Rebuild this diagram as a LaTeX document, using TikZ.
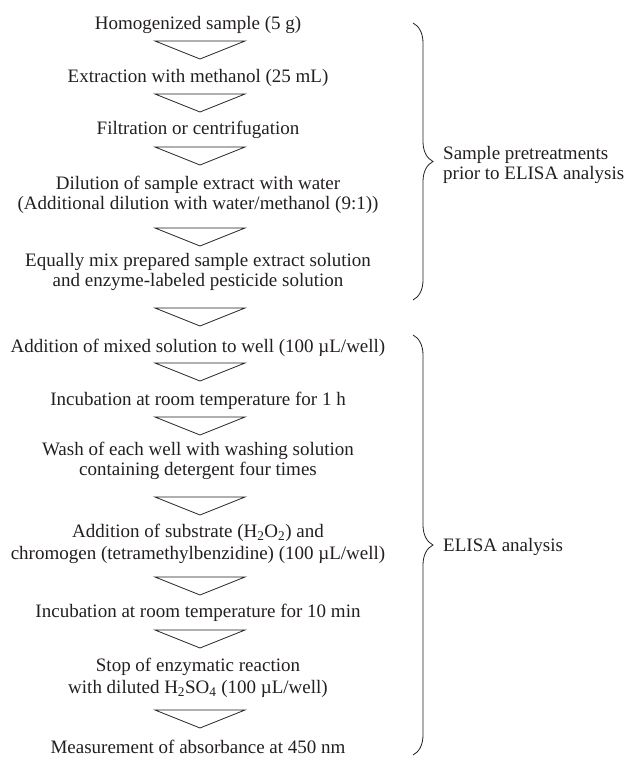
\documentclass[tikz,border=0pt]{standalone}
\usepackage{fontspec}
\setmainfont{Liberation Serif}
\usepackage{tikz}
\usetikzlibrary{decorations.pathreplacing}

\definecolor{inkgray}{RGB}{35,31,32}

\tikzset{
  stepnode/.style={align=center,inner sep=0pt,text=inkgray,
    font=\fontsize{19}{20}\selectfont},
  sidenode/.style={align=left,anchor=west,inner sep=0pt,text=inkgray,
    font=\fontsize{19}{20}\selectfont},
  flowtri/.style={draw=inkgray,line width=0.8pt,line join=miter},
  sidebrace/.style={draw=inkgray,line width=0.8pt,decorate,
    decoration={brace,amplitude=20pt}}
}

\begin{document}
\begin{tikzpicture}[x=1pt,y=-1pt]
\useasboundingbox (0,0) rectangle (624,760);

% the points of the down triangles
\pgfmathsetmacro{\Xleft}{155};
\pgfmathsetmacro{\Xmid}{200};
\pgfmathsetmacro{\Xright}{245};
\pgfmathsetmacro{\Theight}{18};
\pgfmathsetmacro{\Xtext}{198};

% the steps
\node[stepnode] (homog) at (\Xtext,25) {Homogenized sample (5 g)};
\node[stepnode] (extract) at (\Xtext,78) {Extraction with methanol (25 mL)};
\node[stepnode] (filter) at (\Xtext,130) {Filtration or centrifugation};
\node[stepnode] (dilute) at (\Xtext,195) {Dilution of sample extract with water\\
  (Additional dilution with water/methanol (9:1))};
\node[stepnode] (mix) at (\Xtext,272) {Equally mix prepared sample extract solution\\
  and enzyme-labeled pesticide solution};
\node[stepnode] (addmix) at (\Xtext,348) {Addition of mixed solution to well (100 µL/well)};
\node[stepnode] (incubA) at (\Xtext,401) {Incubation at room temperature for 1 h};
\node[stepnode] (wash) at (\Xtext,461) {Wash of each well with washing solution\\
  containing detergent four times};
\node[stepnode] (addsub) at (\Xtext,544) {Addition of substrate (H\textsubscript{2}O\textsubscript{2}) and\\[2pt]
  chromogen (tetramethylbenzidine) (100 µL/well)};
\node[stepnode] (incubB) at (\Xtext,613) {Incubation at room temperature for 10 min};
\node[stepnode] (stop) at (\Xtext,678) {Stop of enzymatic reaction\\[2pt]
  with diluted H\textsubscript{2}SO\textsubscript{4} (100 µL/well)};
\node[stepnode] (measure) at (\Xtext,747) {Measurement of absorbance at 450 nm};

% draw the down triangles between the steps
\foreach \Ytop in {41,94,147,228,308,363,417,497,577,630,710}
  \draw [flowtri] (\Xleft,\Ytop) -- (\Xright,\Ytop) -- (\Xmid,\Ytop+\Theight) -- cycle;

% the two braces and their labels
\coordinate (preTop) at (413,23);
\coordinate (preBot) at (413,300);
\draw [sidebrace] (preTop) -- (preBot);
\node[sidenode] (pretreat) at (443,165) {Sample pretreatments\\prior to ELISA analysis};

\coordinate (elisaTop) at (413,335);
\coordinate (elisaBot) at (413,755);
\draw [sidebrace] (elisaTop) -- (elisaBot);
\node[sidenode] (elisa) at (443,547) {ELISA analysis};
\end{tikzpicture}
\end{document}
